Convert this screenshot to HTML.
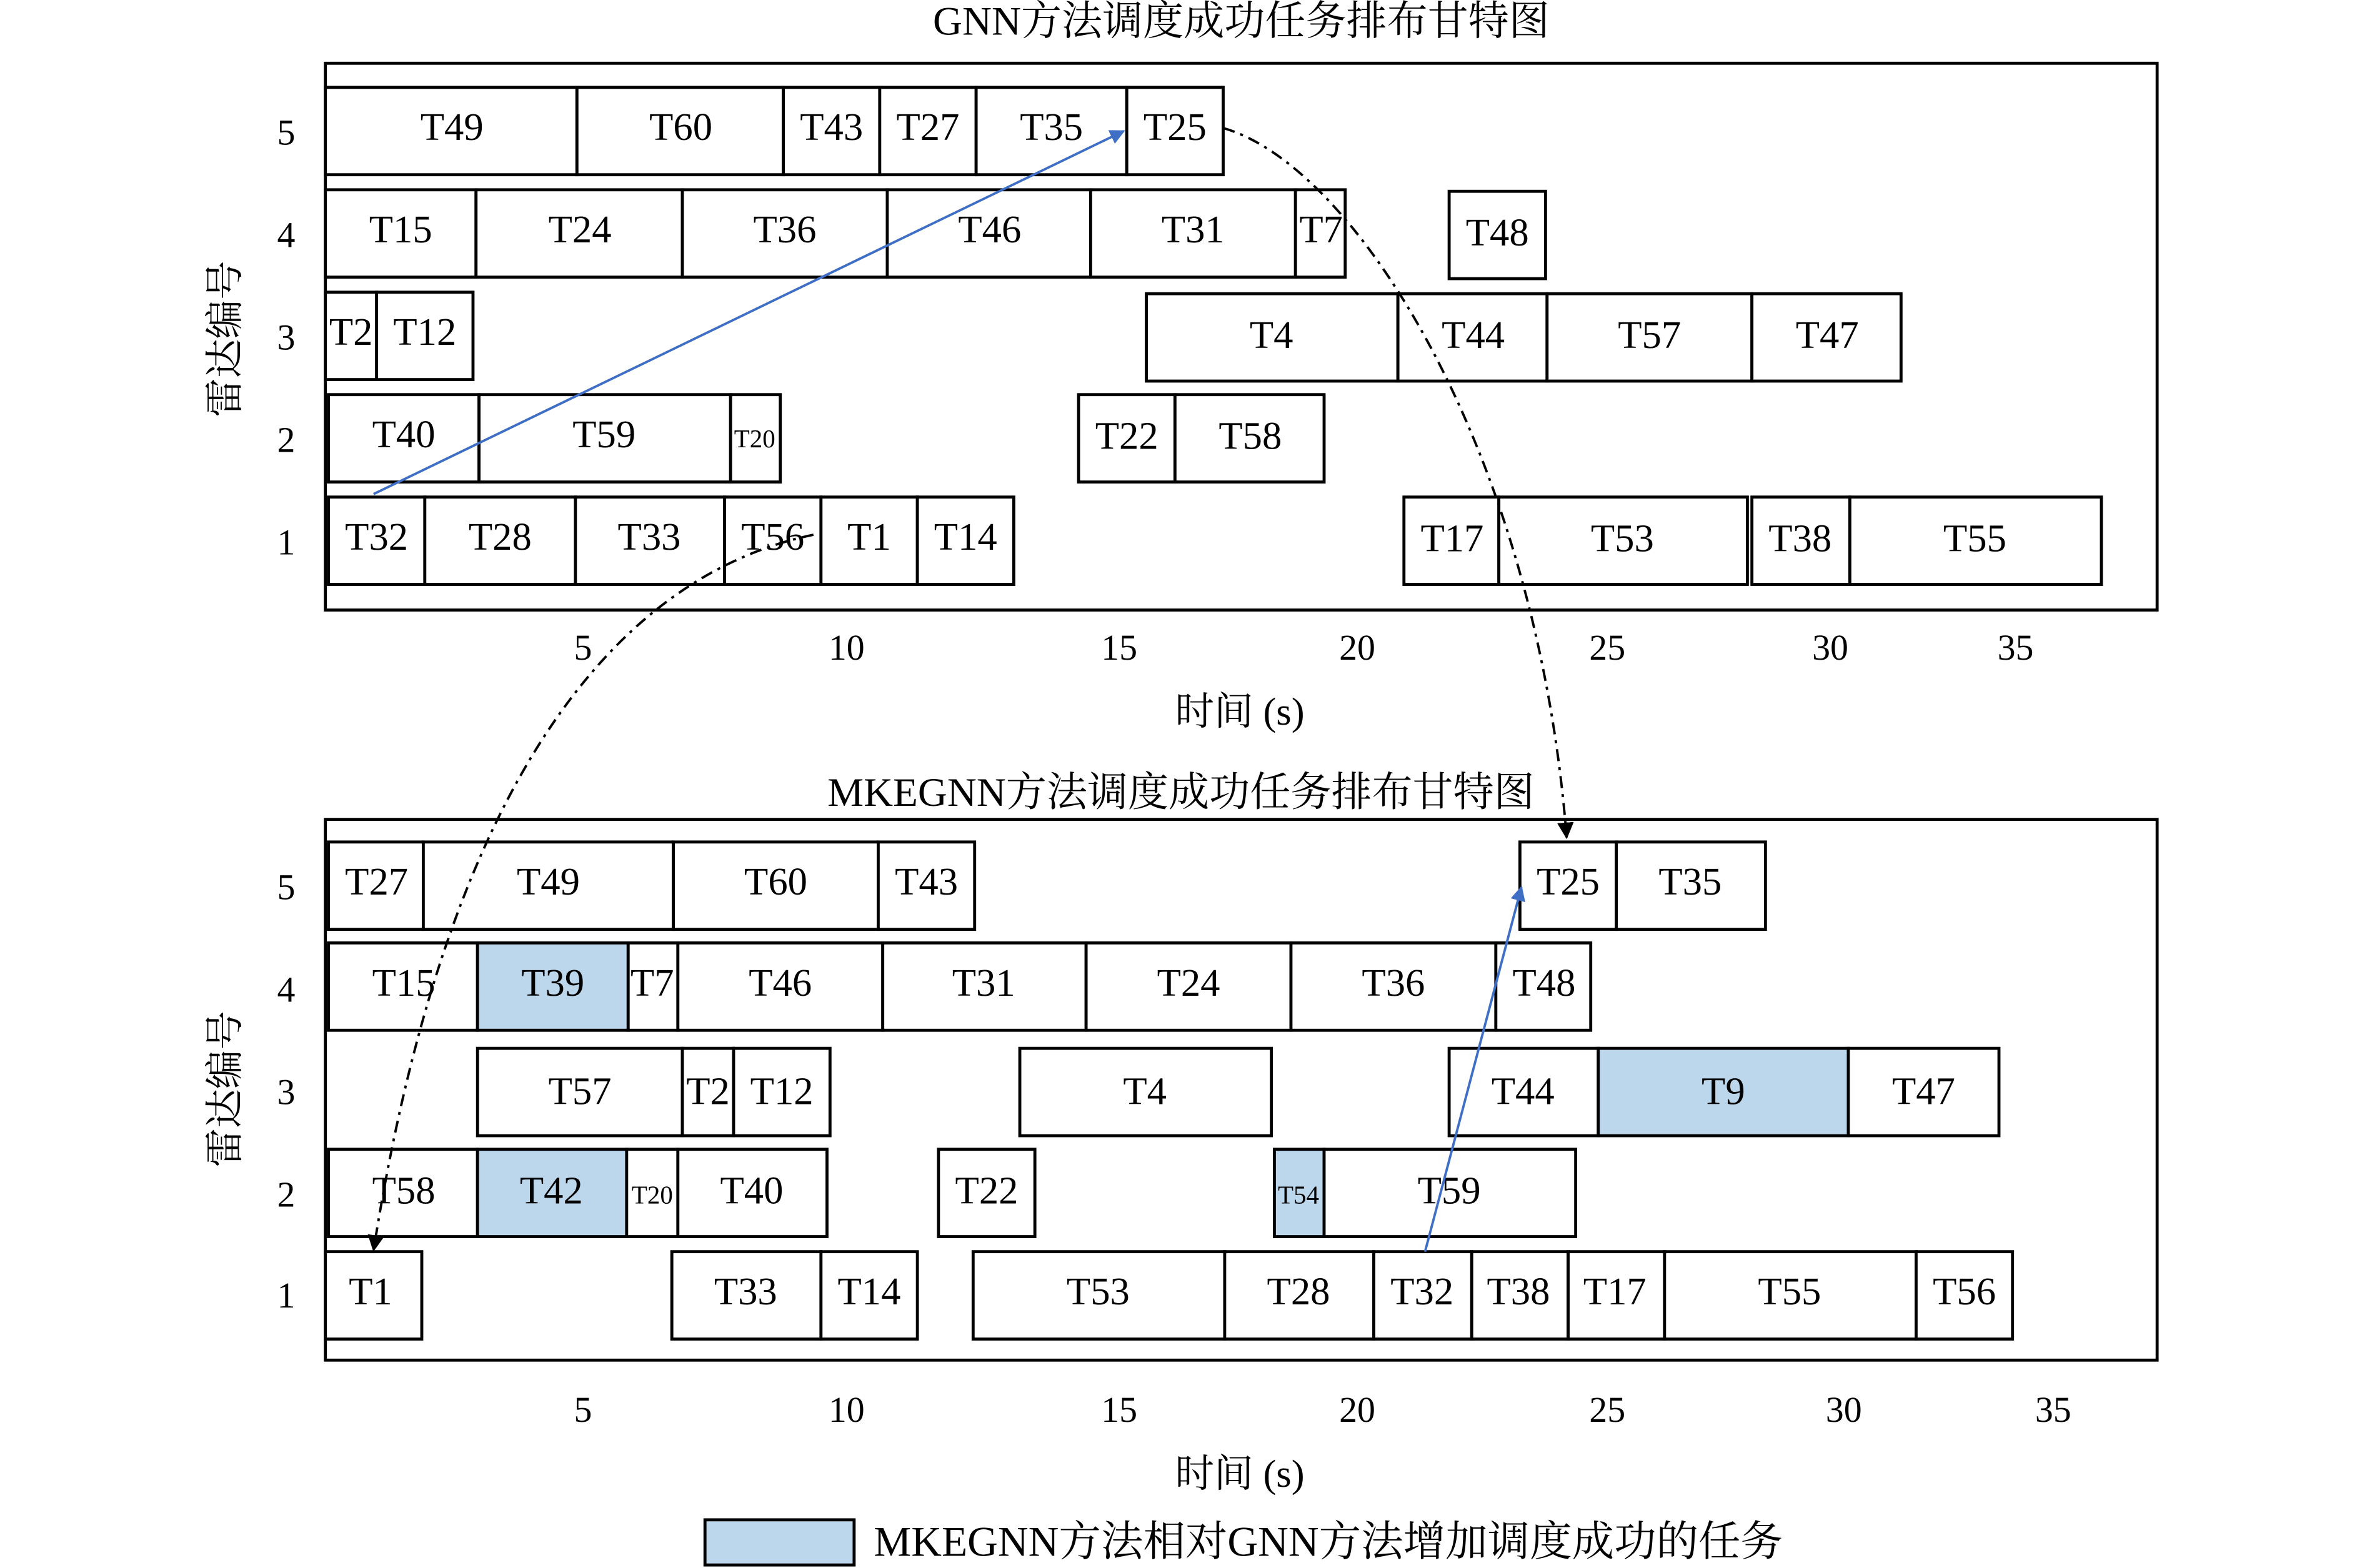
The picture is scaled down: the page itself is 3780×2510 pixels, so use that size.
<!DOCTYPE html>
<html><head><meta charset="utf-8"><style>
html,body{margin:0;padding:0;background:#fff;}
svg{display:block;}
text{font-family:"Liberation Serif","Noto Serif CJK SC",serif;fill:#000;}
</style></head><body>
<svg width="3780" height="2510" viewBox="0 0 1568 1041" preserveAspectRatio="none" xmlns="http://www.w3.org/2000/svg">
<defs>
<marker id="ab" viewBox="0 0 10 10" refX="9" refY="5" markerWidth="10" markerHeight="10" orient="auto" markerUnits="userSpaceOnUse"><path d="M0,0L10,5L0,10z" fill="#3f6fc4"/></marker>
<marker id="ak" viewBox="0 0 10 10" refX="9" refY="5" markerWidth="11" markerHeight="11" orient="auto" markerUnits="userSpaceOnUse"><path d="M0,0L10,5L0,10z" fill="#000"/></marker>
</defs>
<g text-anchor="middle">
<text x="824" y="23" font-size="27">GNN方法调度成功任务排布甘特图</text>
<text x="784" y="535" font-size="27">MKEGNN方法调度成功任务排布甘特图</text>
</g>
<g fill="none" stroke="#000" stroke-width="2">
<rect x="216" y="42" width="1216" height="363"/>
<rect x="216" y="544" width="1216" height="359"/>
</g>
<g stroke="#000" stroke-width="2" fill="#fff">
<rect x="216" y="58" width="167" height="58"/><rect x="383" y="58" width="137" height="58"/><rect x="520" y="58" width="64" height="58"/><rect x="584" y="58" width="64" height="58"/><rect x="648" y="58" width="100" height="58"/><rect x="748" y="58" width="64" height="58"/>
<rect x="216" y="126" width="100" height="58"/><rect x="316" y="126" width="137" height="58"/><rect x="453" y="126" width="136" height="58"/><rect x="589" y="126" width="135" height="58"/><rect x="724" y="126" width="136" height="58"/><rect x="860" y="126" width="33" height="58"/><rect x="962" y="127" width="64" height="58"/>
<rect x="216" y="194" width="34" height="58"/><rect x="250" y="194" width="64" height="58"/><rect x="761" y="195" width="167" height="58"/><rect x="928" y="195" width="99" height="58"/><rect x="1027" y="195" width="136" height="58"/><rect x="1163" y="195" width="99" height="58"/>
<rect x="218" y="262" width="100" height="58"/><rect x="318" y="262" width="167" height="58"/><rect x="485" y="262" width="33" height="58"/><rect x="716" y="262" width="64" height="58"/><rect x="780" y="262" width="99" height="58"/>
<rect x="218" y="330" width="64" height="58"/><rect x="282" y="330" width="100" height="58"/><rect x="382" y="330" width="99" height="58"/><rect x="481" y="330" width="64" height="58"/><rect x="545" y="330" width="64" height="58"/><rect x="609" y="330" width="64" height="58"/><rect x="932" y="330" width="63" height="58"/><rect x="995" y="330" width="165" height="58"/><rect x="1163" y="330" width="65" height="58"/><rect x="1228" y="330" width="167" height="58"/>
<rect x="218" y="559" width="63" height="58"/><rect x="281" y="559" width="166" height="58"/><rect x="447" y="559" width="136" height="58"/><rect x="583" y="559" width="64" height="58"/><rect x="1009" y="559" width="64" height="58"/><rect x="1073" y="559" width="99" height="58"/>
<rect x="218" y="626" width="99" height="58"/><rect x="317" y="626" width="100" height="58" fill="#bcd6ec"/><rect x="417" y="626" width="33" height="58"/><rect x="450" y="626" width="136" height="58"/><rect x="586" y="626" width="135" height="58"/><rect x="721" y="626" width="136" height="58"/><rect x="857" y="626" width="136" height="58"/><rect x="993" y="626" width="63" height="58"/>
<rect x="317" y="696" width="136" height="58"/><rect x="453" y="696" width="34" height="58"/><rect x="487" y="696" width="64" height="58"/><rect x="677" y="696" width="167" height="58"/><rect x="962" y="696" width="99" height="58"/><rect x="1061" y="696" width="166" height="58" fill="#bcd6ec"/><rect x="1227" y="696" width="100" height="58"/>
<rect x="218" y="763" width="99" height="58"/><rect x="317" y="763" width="99" height="58" fill="#bcd6ec"/><rect x="416" y="763" width="34" height="58"/><rect x="450" y="763" width="99" height="58"/><rect x="623" y="763" width="64" height="58"/><rect x="846" y="763" width="33" height="58" fill="#bcd6ec"/><rect x="879" y="763" width="167" height="58"/>
<rect x="216" y="831" width="64" height="58"/><rect x="446" y="831" width="99" height="58"/><rect x="545" y="831" width="64" height="58"/><rect x="646" y="831" width="167" height="58"/><rect x="813" y="831" width="99" height="58"/><rect x="912" y="831" width="65" height="58"/><rect x="977" y="831" width="64" height="58"/><rect x="1041" y="831" width="64" height="58"/><rect x="1105" y="831" width="167" height="58"/><rect x="1272" y="831" width="64" height="58"/>
<rect x="468" y="1009" width="99" height="30" fill="#bcd6ec"/>
</g>
<g font-size="26" text-anchor="middle">
<text x="300" y="93">T49</text><text x="452" y="93">T60</text><text x="552" y="93">T43</text><text x="616" y="93">T27</text><text x="698" y="93">T35</text><text x="780" y="93">T25</text>
<text x="266" y="161">T15</text><text x="385" y="161">T24</text><text x="521" y="161">T36</text><text x="657" y="161">T46</text><text x="792" y="161">T31</text><text x="877" y="161">T7</text><text x="994" y="163">T48</text>
<text x="233" y="229">T2</text><text x="282" y="229">T12</text><text x="844" y="231">T4</text><text x="978" y="231">T44</text><text x="1095" y="231">T57</text><text x="1213" y="231">T47</text>
<text x="268" y="297">T40</text><text x="401" y="297">T59</text><text x="501" y="297" font-size="17">T20</text><text x="748" y="298">T22</text><text x="830" y="298">T58</text>
<text x="250" y="365">T32</text><text x="332" y="365">T28</text><text x="431" y="365">T33</text><text x="513" y="365">T56</text><text x="577" y="365">T1</text><text x="641" y="365">T14</text><text x="964" y="366">T17</text><text x="1077" y="366">T53</text><text x="1195" y="366">T38</text><text x="1311" y="366">T55</text>
<text x="250" y="594">T27</text><text x="364" y="594">T49</text><text x="515" y="594">T60</text><text x="615" y="594">T43</text><text x="1041" y="594">T25</text><text x="1122" y="594">T35</text>
<text x="268" y="661">T15</text><text x="367" y="661">T39</text><text x="433" y="661">T7</text><text x="518" y="661">T46</text><text x="653" y="661">T31</text><text x="789" y="661">T24</text><text x="925" y="661">T36</text><text x="1025" y="661">T48</text>
<text x="385" y="733">T57</text><text x="470" y="733">T2</text><text x="519" y="733">T12</text><text x="760" y="733">T4</text><text x="1011" y="733">T44</text><text x="1144" y="733">T9</text><text x="1277" y="733">T47</text>
<text x="268" y="799">T58</text><text x="366" y="799">T42</text><text x="433" y="799" font-size="17">T20</text><text x="499" y="799">T40</text><text x="655" y="799">T22</text><text x="862" y="799" font-size="17">T54</text><text x="962" y="799">T59</text>
<text x="246" y="866">T1</text><text x="495" y="866">T33</text><text x="577" y="866">T14</text><text x="729" y="866">T53</text><text x="862" y="866">T28</text><text x="944" y="866">T32</text><text x="1008" y="866">T38</text><text x="1072" y="866">T17</text><text x="1188" y="866">T55</text><text x="1304" y="866">T56</text>
</g>
<g font-size="24" text-anchor="middle">
<text x="190" y="96">5</text><text x="190" y="164">4</text><text x="190" y="232">3</text><text x="190" y="300">2</text><text x="190" y="368">1</text>
<text x="190" y="597">5</text><text x="190" y="665">4</text><text x="190" y="733">3</text><text x="190" y="801">2</text><text x="190" y="868">1</text>
<text x="387" y="438">5</text><text x="562" y="438">10</text><text x="743" y="438">15</text><text x="901" y="438">20</text><text x="1067" y="438">25</text><text x="1215" y="438">30</text><text x="1338" y="438">35</text>
<text x="387" y="944">5</text><text x="562" y="944">10</text><text x="743" y="944">15</text><text x="901" y="944">20</text><text x="1067" y="944">25</text><text x="1224" y="944">30</text><text x="1363" y="944">35</text>
<text x="823" y="481" font-size="26">时间 (s)</text><text x="823" y="987" font-size="26">时间 (s)</text>
<text transform="translate(158,225) rotate(-90)" font-size="26">雷达编号</text>
<text transform="translate(158,723) rotate(-90)" font-size="26">雷达编号</text>
</g>
<text x="580" y="1033" font-size="28">MKEGNN方法相对GNN方法增加调度成功的任务</text>
<g fill="none" stroke-width="1.6">
<line x1="248" y1="328" x2="746" y2="87" stroke="#3f6fc4" marker-end="url(#ab)"/>
<line x1="946" y1="831" x2="1010" y2="589" stroke="#3f6fc4" marker-end="url(#ab)"/>
<path d="M812,85 C900,110 1020,300 1040,556" stroke="#000" stroke-dasharray="8,4,2,4" marker-end="url(#ak)"/>
<path d="M540,355 C420,380 300,500 248,830" stroke="#000" stroke-dasharray="8,4,2,4" marker-end="url(#ak)"/>
</g>
</svg>
</body></html>
